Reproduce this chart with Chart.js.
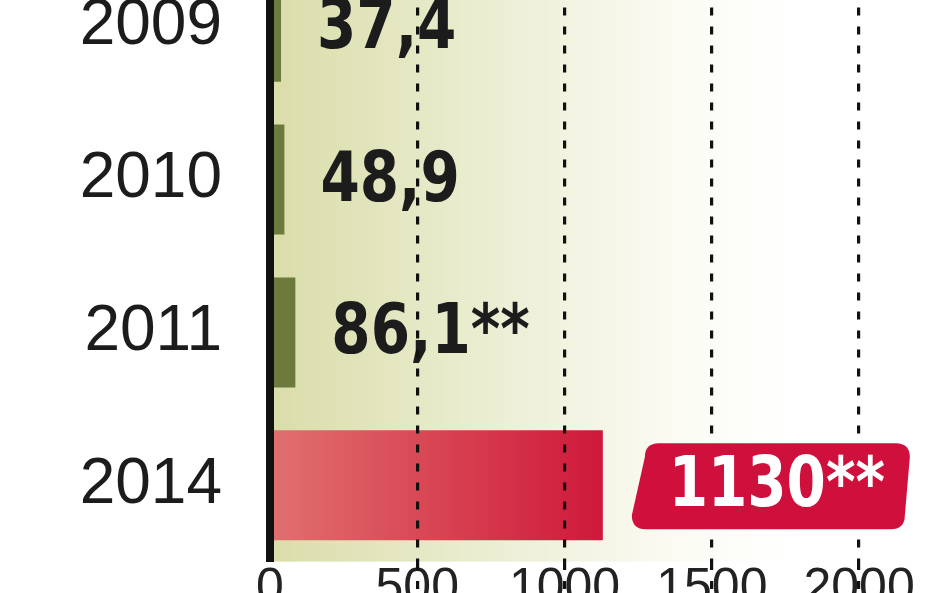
<!DOCTYPE html>
<html>
<head>
<meta charset="utf-8">
<script src="https://cdn.jsdelivr.net/npm/chart.js@4"></script>
<style>
  html, body { margin: 0; padding: 0; background: #fff; overflow: hidden; }
  #wrap { position: absolute; left: 0; top: -128px; width: 948px; height: 768px; }
</style>
</head>
<body>
<div id="wrap"><canvas id="chart" width="948" height="768"></canvas></div>
<script>
const years = ["2009", "2010", "2011", "2014"];
const values = [37.4, 48.9, 86.1, 1130];
const notes = ["", "", "**", "**"];
const xTicks = [0, 500, 1000, 1500, 2000];

const fmt = (v, i) => String(v).replace(".", ",") + notes[i];
const LABEL_FONT = 'bold 69px "DejaVu Sans Condensed", "Liberation Sans Narrow", sans-serif';

// narrow text a bit to get closer to the condensed newspaper face
function narrowText(ctx, text, x, y, align) {
    const k = 0.91;
    ctx.save();
    ctx.translate(x, y);
    ctx.scale(k, 1);
    ctx.textAlign = align;
    ctx.fillText(text, 0, 0);
    ctx.restore();
}

const backdrop = {
    id: "backdrop",
    beforeDatasetsDraw(chart) {
        const { ctx, chartArea: a } = chart;
        const g = ctx.createLinearGradient(a.left, 0, a.left + 520, 0);
        g.addColorStop(0, "#dadda9");
        g.addColorStop(0.3, "#e6e9c6");
        g.addColorStop(0.55, "#f1f2df");
        g.addColorStop(0.78, "#fbfbf3");
        g.addColorStop(1, "#ffffff");
        ctx.save();
        ctx.fillStyle = g;
        ctx.fillRect(a.left, a.top, a.right - a.left, a.bottom - a.top);
        ctx.restore();
    }
};

const valueLabels = {
    id: "valueLabels",
    afterDatasetsDraw(chart) {
        const { ctx } = chart;
        const bars = chart.getDatasetMeta(0).data;
        ctx.save();
        ctx.font = LABEL_FONT;
        ctx.textBaseline = "middle";
        ctx.fillStyle = "#1c1c1c";
        bars.forEach((bar, i) => {
            if (i === bars.length - 1) return;
            narrowText(ctx, fmt(values[i], i), bar.x + 36, bar.y + 3, "left");
        });
        ctx.restore();
    },
    afterDraw(chart) {
        const { ctx } = chart;
        const bars = chart.getDatasetMeta(0).data;
        const i = bars.length - 1;
        const bar = bars[i];
        const x0 = bar.x + 29, x1 = bar.x + 307;
        const y0 = bar.y - 42, y1 = bar.y + 44;
        const r = 14;
        ctx.save();
        ctx.fillStyle = "#d0103c";
        ctx.beginPath();
        ctx.moveTo(x0 + 13 + r, y0);
        ctx.lineTo(x1 - r, y0);
        ctx.quadraticCurveTo(x1, y0, x1, y0 + r);
        ctx.lineTo(x1 - 5, y1 - r);
        ctx.quadraticCurveTo(x1 - 5, y1, x1 - 5 - r, y1);
        ctx.lineTo(x0 + r, y1);
        ctx.quadraticCurveTo(x0, y1, x0, y1 - r);
        ctx.lineTo(x0 + 13, y0 + r);
        ctx.quadraticCurveTo(x0 + 13, y0, x0 + 13 + r, y0);
        ctx.closePath();
        ctx.fill();
        ctx.font = LABEL_FONT;
        ctx.textBaseline = "middle";
        ctx.fillStyle = "#ffffff";
        narrowText(ctx, fmt(values[i], i), (x0 + x1) / 2 + 6, bar.y + 3, "center");
        ctx.restore();
    }
};

function barColor(c) {
    const chart = c.chart;
    const a = chart.chartArea;
    if (c.dataIndex === 3) {
        if (!a) return "#d83048";
        const end = chart.scales.x.getPixelForValue(values[3]);
        const g = chart.ctx.createLinearGradient(a.left, 0, end, 0);
        g.addColorStop(0, "#e07070");
        g.addColorStop(0.5, "#d84452");
        g.addColorStop(1, "#cf183c");
        return g;
    }
    return "#6d7a3e";
}

new Chart(document.getElementById("chart").getContext("2d"), {
    type: "bar",
    data: {
        labels: years,
        datasets: [{
            data: values,
            backgroundColor: barColor,
            borderWidth: 0,
            barPercentage: 0.72,
            categoryPercentage: 1
        }]
    },
    options: {
        indexAxis: "y",
        responsive: false,
        animation: false,
        events: [],
        layout: { padding: { top: 0, right: 30, left: 0, bottom: 0 } },
        plugins: { legend: { display: false }, tooltip: { enabled: false } },
        scales: {
            x: {
                min: 0,
                max: 2200,
                afterBuildTicks(scale) {
                    scale.ticks = xTicks.map(v => ({ value: v }));
                },
                afterFit(scale) { scale.height = 70; },
                border: { display: false, dash: [8, 11] },
                grid: {
                    z: 1,
                    color: c => (c.tick && c.tick.value === 0) ? "rgba(0,0,0,0)" : "#111",
                    lineWidth: 3.2,
                    tickLength: 40,
                    tickBorderDash: [8, 11]
                },
                ticks: {
                    padding: -42,
                    color: "#222",
                    font: { family: "Liberation Sans", size: 50 },
                    callback: v => String(v)
                }
            },
            y: {
                afterFit(scale) { scale.width = 270; },
                grid: { display: false },
                border: { display: true, color: "#111", width: 8, z: 2 },
                ticks: {
                    padding: 40,
                    color: "#1c1c1c",
                    font: { family: "Liberation Sans", size: 64 }
                }
            }
        }
    },
    plugins: [backdrop, valueLabels]
});
</script>
</body>
</html>
